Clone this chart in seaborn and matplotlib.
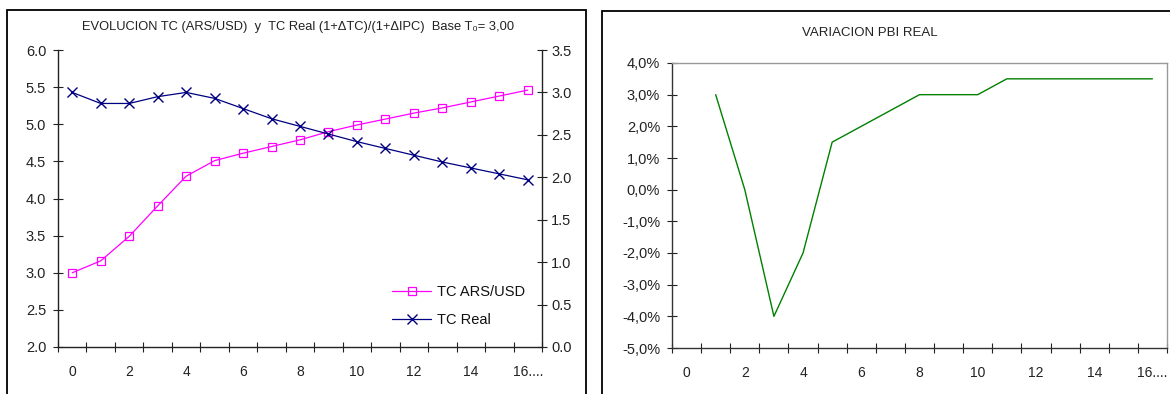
import matplotlib
matplotlib.use("Agg")
import matplotlib.pyplot as plt
import seaborn as sns
from matplotlib.patches import Rectangle
from matplotlib.ticker import FixedLocator, FuncFormatter, MultipleLocator

# ---- data ----
periods = list(range(17))
tc_ars_usd = [3.00, 3.16, 3.49, 3.90, 4.30, 4.51, 4.61, 4.70, 4.79, 4.90,
              4.99, 5.07, 5.15, 5.22, 5.30, 5.38, 5.46]
tc_real = [3.00, 2.87, 2.87, 2.95, 3.00, 2.93, 2.81, 2.69, 2.60, 2.51,
           2.42, 2.34, 2.26, 2.18, 2.11, 2.04, 1.97]

pbi_periods = list(range(1, 17))
pbi_var = [3.0, 0.0, -4.0, -2.0, 1.5, 2.0, 2.5, 3.0, 3.0, 3.0,
           3.5, 3.5, 3.5, 3.5, 3.5, 3.5]

label_positions = [0, 2, 4, 6, 8, 10, 12, 14, 16]
x_tick_labels = ["0", "2", "4", "6", "8", "10", "12", "14", "16...."]

title_left = "EVOLUCION TC (ARS/USD)  y  TC Real (1+\u0394TC)/(1+\u0394IPC)  Base T\u2080= 3,00"
title_right = "VARIACION PBI REAL"
name_ars = "TC ARS/USD"
name_real = "TC Real"

# ---- style ----
sns.set_theme(style="white")
plt.rcParams["font.family"] = ["Liberation Sans", "DejaVu Sans"]
plt.rcParams["axes.edgecolor"] = "#222222"
plt.rcParams["text.color"] = "#111111"
plt.rcParams["xtick.color"] = "#222222"
plt.rcParams["ytick.color"] = "#222222"

W, H = 1170, 394
fig = plt.figure(figsize=(W / 100, H / 100), dpi=100)
fig.patch.set_facecolor("white")


def fr(x0, y0, x1, y1):
    return [x0 / W, 1 - y1 / H, (x1 - x0) / W, (y1 - y0) / H]


# chart-area frames
fig.patches.append(Rectangle((7 / W, -0.05), 579 / W, 1.05 - 10 / H,
                             transform=fig.transFigure, fill=False,
                             edgecolor="black", linewidth=1.3))
fig.patches.append(Rectangle((602 / W, -0.05), 0.5, 1.05 - 11 / H,
                             transform=fig.transFigure, fill=False,
                             edgecolor="black", linewidth=1.3))


def category_axis(ax):
    ax.set_xlim(-0.5, 16.5)
    ax.xaxis.set_major_locator(FixedLocator([i - 0.5 for i in range(18)]))
    ax.xaxis.set_major_formatter(FuncFormatter(lambda v, p: ""))
    ax.xaxis.set_minor_locator(FixedLocator(label_positions))
    ax.set_xticklabels(x_tick_labels, minor=True)
    ax.tick_params(axis="x", which="major", direction="inout", length=7,
                   width=0.8, bottom=True)
    ax.tick_params(axis="x", which="minor", length=0, pad=13, labelsize=10,
                   bottom=True)
    ax.set_xlabel("")


# ---- left chart: exchange rates ----
ax = fig.add_axes(fr(58, 50, 542, 347))
ax2 = ax.twinx()

sns.lineplot(x=periods, y=tc_ars_usd, ax=ax, color="#FF00FF", linewidth=0.9,
             marker="s", markersize=6, markerfacecolor="none",
             markeredgecolor="#FF00FF", markeredgewidth=0.9, label=name_ars,
             legend=False)
sns.lineplot(x=periods, y=tc_real, ax=ax2, color="#000080", linewidth=0.9,
             marker="x", markersize=7, markeredgecolor="#000080",
             markeredgewidth=1.0, label=name_real, legend=False)

ax.set_ylim(2.0, 6.0)
ax.yaxis.set_major_locator(MultipleLocator(0.5))
ax.yaxis.set_major_formatter(FuncFormatter(lambda v, p: f"{v:.1f}"))
ax2.set_ylim(0.0, 3.5)
ax2.yaxis.set_major_locator(MultipleLocator(0.5))
ax2.yaxis.set_major_formatter(FuncFormatter(lambda v, p: f"{v:.1f}"))
category_axis(ax)

ax.tick_params(axis="y", direction="inout", length=7, width=0.8, left=True,
               labelsize=10.5, pad=5)
ax2.tick_params(axis="y", direction="inout", length=7, width=0.8, right=True,
                labelsize=10.5, pad=3)
for a in (ax, ax2):
    a.spines["top"].set_visible(False)
    a.set_ylabel("")
ax.spines["right"].set_visible(False)
ax2.spines["left"].set_visible(False)
ax2.spines["bottom"].set_visible(False)
for s in ("left", "bottom"):
    ax.spines[s].set_linewidth(1.0)
ax2.spines["right"].set_linewidth(1.0)

fig.text(298 / W, 1 - 27 / H, title_left, ha="center", va="center",
         fontsize=9.3, color="#222222")

h1, l1 = ax.get_legend_handles_labels()
h2, l2 = ax2.get_legend_handles_labels()
fig.legend(h1 + h2, l1 + l2, loc="center left",
           bbox_to_anchor=(392 / W, 1 - 306 / H), frameon=False, fontsize=10.5,
           handlelength=2.7, handletextpad=0.4, labelspacing=1.0,
           borderpad=0, borderaxespad=0)

# ---- right chart: real GDP growth ----
bx = fig.add_axes(fr(672, 63, 1167, 348))
sns.lineplot(x=pbi_periods, y=pbi_var, ax=bx, color="#008000", linewidth=1.0)
bx.set_ylim(-5.0, 4.0)
bx.yaxis.set_major_locator(MultipleLocator(1.0))
bx.yaxis.set_major_formatter(
    FuncFormatter(lambda v, p: f"{v:.1f}".replace(".", ",") + "%"))
category_axis(bx)
bx.tick_params(axis="y", direction="inout", length=7, width=0.8, left=True,
               labelsize=10.5, pad=5)
bx.set_ylabel("")
for s in ("top", "right"):
    bx.spines[s].set_color("#999999")
    bx.spines[s].set_linewidth(1.0)
for s in ("left", "bottom"):
    bx.spines[s].set_color("#333333")
    bx.spines[s].set_linewidth(1.0)

fig.text(870 / W, 1 - 33 / H, title_right, ha="center", va="center",
         fontsize=9.5, color="#222222")

fig.savefig("out.png", dpi=100, facecolor="white")
